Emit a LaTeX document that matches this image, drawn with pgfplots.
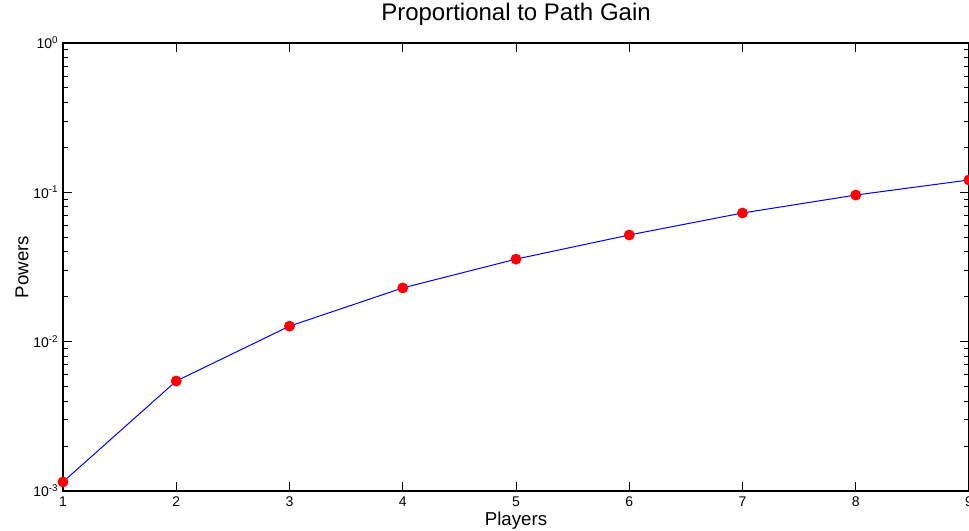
\documentclass[border=0pt]{standalone}
\usepackage{fontspec}
\setmainfont{Liberation Sans}
\usepackage{pgfplots}
\pgfplotsset{compat=1.18}
\begin{document}
\begin{tikzpicture}
\begin{axis}[
  scale only axis,
  width=679.5pt, height=336pt,
  xmin=1, xmax=9,
  ymode=log, ymin=1e-3, ymax=1,
  xtick={1,2,3,4,5,6,7,8,9},
  xticklabels={1,2,3,4,5,6,7,8,9},
  ytick={1e-3,1e-2,1e-1,1},
  yticklabels={10\textsuperscript{-3},10\textsuperscript{-2},10\textsuperscript{-1},10\textsuperscript{0}},
  /pgf/number format/assume math mode=true,
  tick align=inside,
  major tick length=6.5pt,
  minor tick length=3.5pt,
  tick style={black, line width=0.75pt},
  minor tick style={black, line width=0.75pt},
  axis line style={black, line width=1.1pt},
  tick label style={font=\fontsize{10.5}{12}\selectfont},
  xticklabel style={yshift=-1pt},
  title={Proportional to Path Gain},
  title style={font=\fontsize{18}{20}\selectfont, at={(axis description cs:0.5,1.047)}, anchor=center},
  xlabel={Players},
  xlabel style={font=\fontsize{14}{16}\selectfont, at={(axis description cs:0.5,-0.067)}, anchor=center},
  ylabel={Powers},
  ylabel style={font=\fontsize{14}{16}\selectfont, at={(axis description cs:-0.0453,0.5)}, anchor=center},
  clip=false,
]
\addplot[blue, line width=0.75pt, mark=*, mark size=3.7pt, mark options={fill=red, draw=red}]
coordinates {
(1,0.00115)
(2,0.00545)
(3,0.0127)
(4,0.0229)
(5,0.0357)
(6,0.0518)
(7,0.0727)
(8,0.0959)
(9,0.121)
};
\end{axis}
\pgfresetboundingbox
\path ([shift={(-47.25pt,-30pt)}]current axis.south west) rectangle ([shift={(0pt,32.25pt)}]current axis.north east);
\end{tikzpicture}
\end{document}
